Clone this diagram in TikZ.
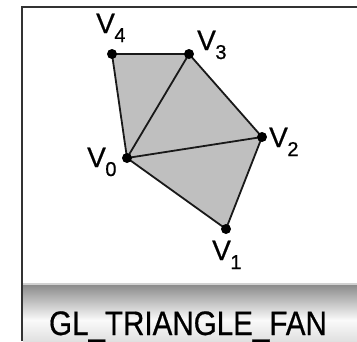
\documentclass[tikz,border=0pt]{standalone}
\usepackage{fontspec}
\setmainfont{Liberation Sans}
\newfontfamily\heavyfont[FakeBold=0.6]{Liberation Sans}
\newcommand{\vlab}[1]{\heavyfont\fontsize{28}{28}\selectfont V\kern-0.5pt\raisebox{-9pt}{\fontsize{20}{20}\selectfont #1}}
\begin{document}
\begin{tikzpicture}[x=1pt,y=-1pt,
  vdot/.style={circle,fill=black,inner sep=0pt,minimum size=10pt},
  edge/.style={line width=1.8pt,black!90,line join=round},
  vlabel/.style={inner sep=0pt,anchor=base west},
  frame/.style={line width=2pt,black!80}]
\useasboundingbox (0,0) rectangle (357,341);
% bottom bar
\shade[top color=black!45,bottom color=black!2] (23,285) rectangle (357,320);
\shade[top color=black!2,bottom color=black!12] (23,320) rectangle (357,341);
\draw[black!18,line width=1.2pt] (23,284) -- (357,284);
\node[inner sep=0pt,anchor=base,xscale=0.87] (title) at (188,335) {\heavyfont\fontsize{34}{34}\selectfont GL\_TRIANGLE\_FAN};
% frame
\draw[frame] (22,341) -- (22,7) -- (357,7);
% vertices
\coordinate (p0) at (127,158);
\coordinate (p1) at (226,229);
\coordinate (p2) at (262,137);
\coordinate (p3) at (189,54);
\coordinate (p4) at (112,54);
\fill[black!25] (p0) -- (p1) -- (p2) -- (p3) -- (p4) -- cycle;
\draw[edge] (p0) -- (p1) -- (p2) -- (p3) -- (p4) -- cycle;
\draw[edge] (p0) -- (p2);
\draw[edge] (p0) -- (p3);
\foreach \i in {0,...,4} { \node[vdot] (d\i) at (p\i) {}; }
% labels
\node[vlabel] (l4) at (96,33) {\vlab{4}};
\node[vlabel] (l3) at (197,50) {\vlab{3}};
\node[vlabel] (l2) at (269,147) {\vlab{2}};
\node[vlabel] (l0) at (87,167) {\vlab{0}};
\node[vlabel] (l1) at (212,260) {\vlab{1}};
\end{tikzpicture}
\end{document}
